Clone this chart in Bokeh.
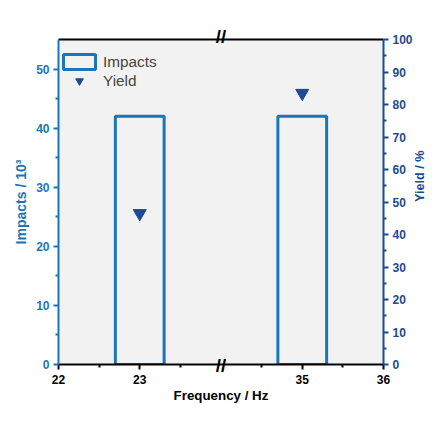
import math
from bokeh.plotting import figure
from bokeh.models import (Range1d, LinearAxis, FixedTicker, Legend, LegendItem)
from bokeh.embed import file_html
from bokeh.resources import INLINE

# ---- data ----
frequencies = [23, 35]            # Hz
impacts = [42, 42]                # x10^3
yields = [46.5, 83.5]             # %
bar_width_hz = 0.6
x_tick_values = [22, 23, 35, 36]
x_minor_values = [22.5, 23.5, 34.5, 35.5]
impacts_ticks = [0, 10, 20, 30, 40, 50]
yield_ticks = [0, 10, 20, 30, 40, 50, 60, 70, 80, 90, 100]

# broken axis: 22..24 | 34..36
BREAK_LO, BREAK_HI = 24, 34
def bx(v):
    return v - 22 if v <= BREAK_LO else v - BREAK_HI + (BREAK_LO - 22)

BLUE = "#1b75bb"
DBLUE = "#1d4a92"
FONT = "Liberation Sans"
Y_MAX = 55

p = figure(frame_width=325, frame_height=325, output_backend="svg", toolbar_location=None,
           x_range=Range1d(bx(22), bx(36)), y_range=Range1d(0, Y_MAX),
           min_border_left=58, min_border_right=44, min_border_top=39,
           min_border_bottom=50, x_axis_location=None, y_axis_location=None)
p.background_fill_color = "#f2f2f2"
p.border_fill_color = "white"
p.outline_line_color = None
p.grid.visible = False
p.extra_y_ranges = {"yield": Range1d(0, 100)}

xs = [bx(f) for f in frequencies]
bars = p.vbar(x=xs, top=impacts, bottom=0, width=bar_width_hz,
              fill_color="#f2f2f2", fill_alpha=0, line_color=BLUE, line_width=3)
pts = p.scatter(x=xs, y=yields, y_range_name="yield", marker="inverted_triangle",
                size=13, fill_color=DBLUE, line_color=DBLUE)

def style(ax, color, label_size="11pt"):
    ax.axis_line_color = color
    ax.axis_line_width = 2
    ax.major_tick_line_color = color
    ax.minor_tick_line_color = color
    ax.major_tick_line_width = 2
    ax.minor_tick_line_width = 2
    ax.major_tick_out = 5
    ax.major_tick_in = 0
    ax.minor_tick_out = 3
    ax.minor_tick_in = 0
    ax.major_label_standoff = 4
    ax.major_label_text_color = color
    ax.major_label_text_font = FONT
    ax.major_label_text_font_style = "bold"
    ax.major_label_text_font_size = "9pt"
    ax.axis_label_text_color = color
    ax.axis_label_text_font = FONT
    ax.axis_label_text_font_style = "bold"
    ax.axis_label_text_font_size = label_size

def break_axis(standoff):
    ax = LinearAxis()
    ax.ticker = FixedTicker(ticks=[bxp], minor_ticks=[])
    ax.major_label_overrides = {bxp: "//"}
    ax.axis_line_color = None
    ax.major_tick_line_color = None
    ax.minor_tick_line_color = None
    ax.major_tick_out = 0
    ax.major_tick_in = 0
    ax.major_label_standoff = standoff
    ax.major_label_text_font = FONT
    ax.major_label_text_font_style = "bold"
    ax.major_label_text_font_size = "14pt"
    ax.major_label_text_color = "black"
    return ax

bxp = bx(BREAK_LO)

# bottom axis
xa = LinearAxis(axis_label="Frequency / Hz")
xa.ticker = FixedTicker(ticks=[bx(v) for v in x_tick_values],
                        minor_ticks=[bx(v) for v in x_minor_values])
xa.major_label_overrides = {bx(v): str(v) for v in x_tick_values}
style(xa, "black", "10pt")
xa.major_label_standoff = 5
xa.axis_label_standoff = 1
p.add_layout(xa, "below")
# bottom "//" break mark, pulled back up onto the axis line
p.add_layout(break_axis(-51), "below")

# top border, carrying the "//" break mark as its only tick label
ta = break_axis(-7)
ta.axis_line_color = "black"
ta.axis_line_width = 2
p.add_layout(ta, "above")

# left axis
la = LinearAxis(axis_label="Impacts / 10³")
la.ticker = FixedTicker(ticks=impacts_ticks, minor_ticks=[5, 15, 25, 35, 45])
style(la, BLUE, "10.5pt")
la.axis_label_standoff = 4
p.add_layout(la, "left")

# right axis
ra = LinearAxis(y_range_name="yield", axis_label="Yield / %")
ra.ticker = FixedTicker(ticks=yield_ticks, minor_ticks=[v + 5 for v in yield_ticks[:-1]])
style(ra, DBLUE, "9.5pt")
ra.axis_label_standoff = 4
ra.axis_label_orientation = math.pi / 2
p.add_layout(ra, "right")

legend = Legend(items=[LegendItem(label="Impacts", renderers=[bars]),
                       LegendItem(label="Yield", renderers=[pts])],
                location=(1, 274))
legend.background_fill_alpha = 0
legend.border_line_color = None
legend.glyph_width = 40
legend.glyph_height = 19
legend.label_text_font = FONT
legend.label_text_font_size = "11.5pt"
legend.label_standoff = 4
legend.spacing = 0
legend.padding = 0
legend.margin = 0
p.add_layout(legend)

open("out.html", "w").write(file_html(p, INLINE))
